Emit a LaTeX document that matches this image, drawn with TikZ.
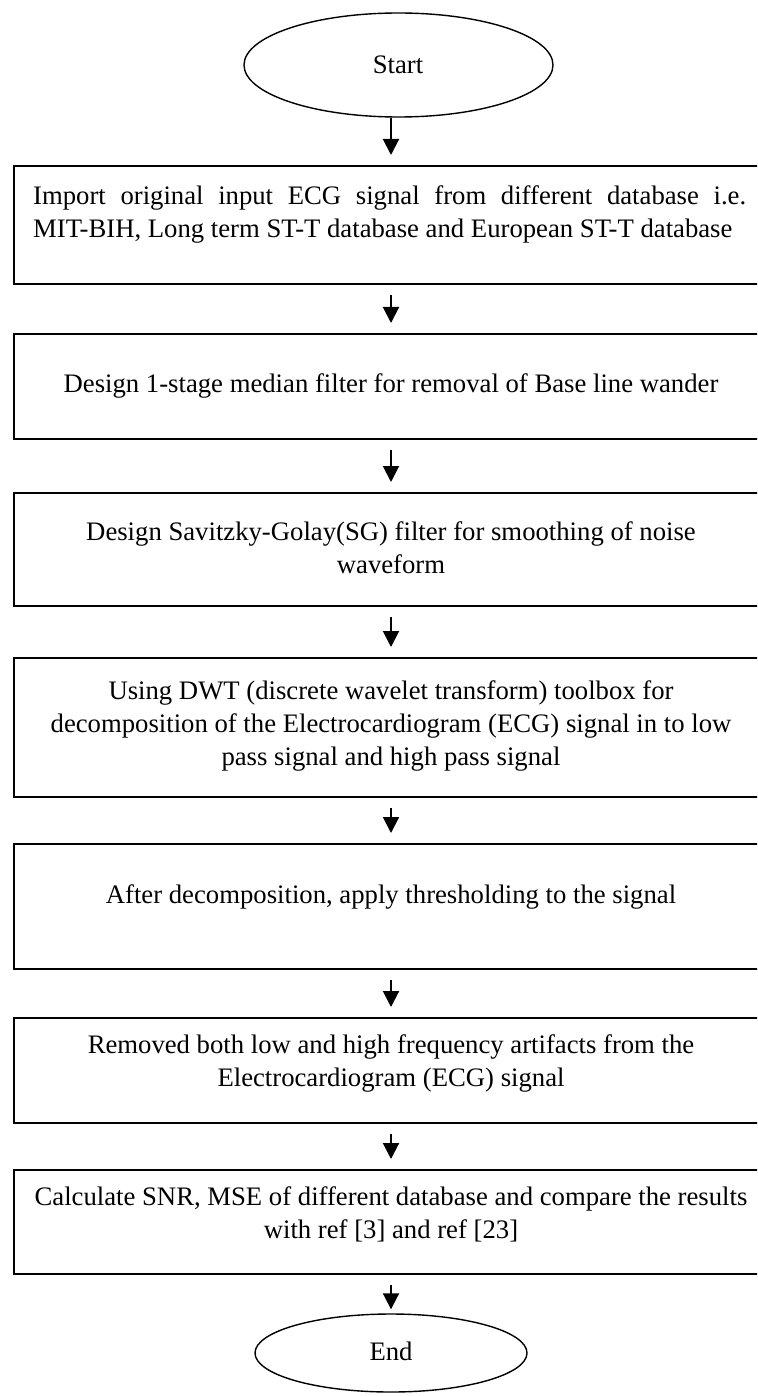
\documentclass[tikz,border=0pt]{standalone}
\usepackage{fontspec}
\setmainfont{Liberation Serif}
\usetikzlibrary{shapes.geometric,arrows.meta}
\begin{document}
\begin{tikzpicture}[x=1pt,y=-1pt,
  box/.style={draw, line width=1.8pt, rectangle, minimum width=758pt, inner sep=0pt, anchor=north west},
  oval/.style={draw, line width=1.4pt, ellipse, inner sep=0pt},
  txt/.style={anchor=base, inner sep=0pt, font=\fontsize{26.7}{33}\selectfont},
  flow/.style={-{Triangle[length=16pt,width=16pt]}, line width=2pt, shorten <=10pt, shorten >=10pt}]
\useasboundingbox (0,0) rectangle (757,1396);
\clip (0,0) rectangle (757,1396);
\coordinate (ax) at (391,0);
% start
\node[oval, minimum width=309pt, minimum height=104pt] (start) at (398.5,65) {};
\node[txt] (tstart) at (398,74) {Start};
% boxes
\node[box, minimum height=118pt] (b1) at (13,165) {};
\node[box, minimum height=105pt] (b2) at (13,333) {};
\node[box, minimum height=113pt] (b3) at (13,492) {};
\node[box, minimum height=139pt] (b4) at (13,657) {};
\node[box, minimum height=125pt] (b5) at (13,843) {};
\node[box, minimum height=105pt] (b6) at (13,1017) {};
\node[box, minimum height=104pt] (b7) at (13,1169) {};
% end
\node[oval, minimum width=272pt, minimum height=78pt] (end) at (391,1353) {};
\node[txt] (tend) at (391,1360) {End};
% texts
\node[txt, anchor=base west] (t1) at (33,205) {\parbox[t]{713pt}{\hyphenpenalty=10000 Import original input ECG signal from different database i.e.\linebreak MIT-BIH, Long term ST-T database and European ST-T database}};
\node[txt] (t2) at (391,392) {\parbox[t]{740pt}{\centering Design 1-stage median filter for removal of Base line wander}};
\node[txt] (t3) at (391,540) {\parbox[t]{740pt}{\centering Design Savitzky-Golay(SG) filter for smoothing of noise\\ waveform}};
\node[txt] (t4) at (391,699) {\parbox[t]{740pt}{\centering Using DWT (discrete wavelet transform) toolbox for\\ decomposition of the Electrocardiogram (ECG) signal in to low\\ pass signal and high pass signal}};
\node[txt] (t5) at (391,903) {\parbox[t]{740pt}{\centering After decomposition, apply thresholding to the signal}};
\node[txt] (t6) at (391,1053) {\parbox[t]{740pt}{\centering Removed both low and high frequency artifacts from the\\ Electrocardiogram (ECG) signal}};
\node[txt] (t7) at (391,1205) {\parbox[t]{740pt}{\centering Calculate SNR, MSE of different database and compare the results\\ with ref [3] and ref [23]}};
% arrows
\draw[flow, shorten <=0pt] (start.south -| ax) -- (b1.north -| ax);
\draw[flow] (b1.south -| ax) -- (b2.north -| ax);
\draw[flow] (b2.south -| ax) -- (b3.north -| ax);
\draw[flow] (b3.south -| ax) -- (b4.north -| ax);
\draw[flow] (b4.south -| ax) -- (b5.north -| ax);
\draw[flow] (b5.south -| ax) -- (b6.north -| ax);
\draw[flow] (b6.south -| ax) -- (b7.north -| ax);
\draw[flow, shorten >=4pt] (b7.south -| ax) -- (end.north);
\end{tikzpicture}
\end{document}
